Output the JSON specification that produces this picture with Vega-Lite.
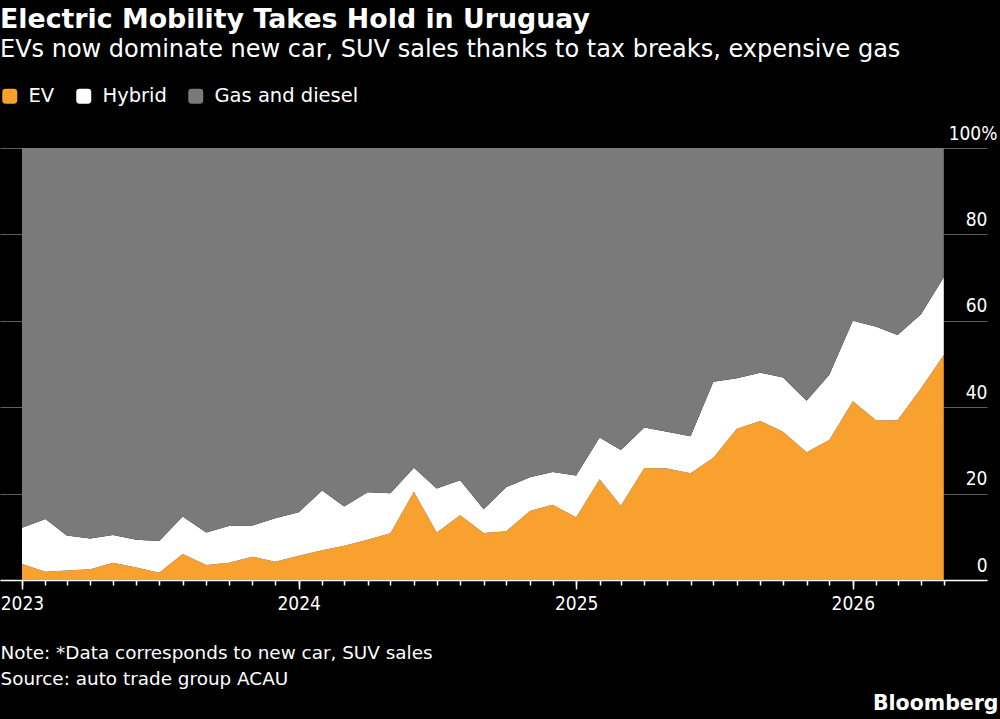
{
  "$schema": "https://vega.github.io/schema/vega-lite/v6.json",
  "background": "#000000",
  "autosize": {"type": "none"},
  "padding": {"left": 0, "top": 148, "right": 13, "bottom": 139},
  "width": 987,
  "height": 432,
  "config": {
    "view": {"stroke": null},
    "font": "DejaVu Sans"
  },
  "title": {
    "text": "Electric Mobility Takes Hold in Uruguay",
    "subtitle": "EVs now dominate new car, SUV sales thanks to tax breaks, expensive gas",
    "anchor": "start",
    "frame": "group",
    "color": "#ffffff",
    "subtitleColor": "#ffffff",
    "font": "DejaVu Sans",
    "subtitleFont": "DejaVu Sans",
    "fontSize": 26.8,
    "subtitleFontSize": 24,
    "fontWeight": "bold",
    "subtitlePadding": 4,
    "offset": 24
  },
  "data": {
    "values": [
      {"date": "2023-01-01", "EV": 3.7, "Hybrid": 8.4, "Gas and diesel": 87.9},
      {"date": "2023-02-01", "EV": 1.9, "Hybrid": 12.2, "Gas and diesel": 85.9},
      {"date": "2023-03-01", "EV": 2.2, "Hybrid": 8.1, "Gas and diesel": 89.7},
      {"date": "2023-04-01", "EV": 2.5, "Hybrid": 7.1, "Gas and diesel": 90.4},
      {"date": "2023-05-01", "EV": 4.0, "Hybrid": 6.4, "Gas and diesel": 89.6},
      {"date": "2023-06-01", "EV": 2.9, "Hybrid": 6.4, "Gas and diesel": 90.7},
      {"date": "2023-07-01", "EV": 1.7, "Hybrid": 7.3, "Gas and diesel": 91.0},
      {"date": "2023-08-01", "EV": 6.0, "Hybrid": 8.7, "Gas and diesel": 85.3},
      {"date": "2023-09-01", "EV": 3.5, "Hybrid": 7.5, "Gas and diesel": 89.0},
      {"date": "2023-10-01", "EV": 4.0, "Hybrid": 8.5, "Gas and diesel": 87.5},
      {"date": "2023-11-01", "EV": 5.4, "Hybrid": 7.2, "Gas and diesel": 87.4},
      {"date": "2023-12-01", "EV": 4.2, "Hybrid": 10.1, "Gas and diesel": 85.7},
      {"date": "2024-01-01", "EV": 5.6, "Hybrid": 10.1, "Gas and diesel": 84.3},
      {"date": "2024-02-01", "EV": 6.9, "Hybrid": 13.8, "Gas and diesel": 79.3},
      {"date": "2024-03-01", "EV": 7.9, "Hybrid": 9.1, "Gas and diesel": 83.0},
      {"date": "2024-04-01", "EV": 9.3, "Hybrid": 11.0, "Gas and diesel": 79.7},
      {"date": "2024-05-01", "EV": 10.8, "Hybrid": 9.3, "Gas and diesel": 79.9},
      {"date": "2024-06-01", "EV": 20.4, "Hybrid": 5.6, "Gas and diesel": 74.0},
      {"date": "2024-07-01", "EV": 11.0, "Hybrid": 10.2, "Gas and diesel": 78.8},
      {"date": "2024-08-01", "EV": 15.0, "Hybrid": 8.1, "Gas and diesel": 76.9},
      {"date": "2024-09-01", "EV": 10.9, "Hybrid": 5.5, "Gas and diesel": 83.6},
      {"date": "2024-10-01", "EV": 11.3, "Hybrid": 10.2, "Gas and diesel": 78.5},
      {"date": "2024-11-01", "EV": 16.0, "Hybrid": 7.8, "Gas and diesel": 76.2},
      {"date": "2024-12-01", "EV": 17.4, "Hybrid": 7.6, "Gas and diesel": 75.0},
      {"date": "2025-01-01", "EV": 14.5, "Hybrid": 9.7, "Gas and diesel": 75.8},
      {"date": "2025-02-01", "EV": 23.3, "Hybrid": 9.7, "Gas and diesel": 67.0},
      {"date": "2025-03-01", "EV": 17.2, "Hybrid": 12.9, "Gas and diesel": 69.9},
      {"date": "2025-04-01", "EV": 25.9, "Hybrid": 9.4, "Gas and diesel": 64.7},
      {"date": "2025-05-01", "EV": 25.8, "Hybrid": 8.5, "Gas and diesel": 65.7},
      {"date": "2025-06-01", "EV": 24.7, "Hybrid": 8.6, "Gas and diesel": 66.7},
      {"date": "2025-07-01", "EV": 28.3, "Hybrid": 17.6, "Gas and diesel": 54.1},
      {"date": "2025-08-01", "EV": 35.0, "Hybrid": 11.7, "Gas and diesel": 53.3},
      {"date": "2025-09-01", "EV": 36.8, "Hybrid": 11.2, "Gas and diesel": 52.0},
      {"date": "2025-10-01", "EV": 34.3, "Hybrid": 12.6, "Gas and diesel": 53.1},
      {"date": "2025-11-01", "EV": 29.6, "Hybrid": 11.9, "Gas and diesel": 58.5},
      {"date": "2025-12-01", "EV": 32.4, "Hybrid": 15.1, "Gas and diesel": 52.5},
      {"date": "2026-01-01", "EV": 41.4, "Hybrid": 18.6, "Gas and diesel": 40.0},
      {"date": "2026-02-01", "EV": 36.9, "Hybrid": 21.7, "Gas and diesel": 41.4},
      {"date": "2026-03-01", "EV": 37.0, "Hybrid": 19.7, "Gas and diesel": 43.3},
      {"date": "2026-04-01", "EV": 44.4, "Hybrid": 17.1, "Gas and diesel": 38.5},
      {"date": "2026-05-01", "EV": 52.1, "Hybrid": 18.0, "Gas and diesel": 29.9}
    ]
  },
  "transform": [
    {"fold": ["EV", "Hybrid", "Gas and diesel"], "as": ["type", "share"]},
    {"calculate": "indexof(['EV', 'Hybrid', 'Gas and diesel'], datum.type)", "as": "stackOrder"}
  ],
  "resolve": {"axis": {"x": "independent"}},
  "layer": [
    {
      "mark": {"type": "area", "interpolate": "linear"},
      "encoding": {
        "x": {
          "field": "date",
          "type": "temporal",
          "scale": {"domain": [{"year": 2022, "month": 12, "date": 3}, {"year": 2026, "month": 6, "date": 27}]},
          "axis": {
            "orient": "bottom",
            "tickCount": {"interval": "month", "step": 1},
            "labels": false,
            "ticks": true,
            "tickSize": 5,
            "tickWidth": 1.5,
            "tickColor": "#ffffff",
            "tickOpacity": {"condition": {"test": "datum.value > datetime(2026, 4, 15)", "value": 0}, "value": 1},
            "domain": true,
            "domainColor": "#ffffff",
            "domainWidth": 1.5,
            "grid": false,
            "title": ["Note: *Data corresponds to new car, SUV sales", "Source: auto trade group ACAU"],
            "titleAnchor": "start",
            "titleAlign": "left",
            "titleBaseline": "top",
            "titleColor": "#ffffff",
            "titleFont": "DejaVu Sans",
            "titleFontSize": 18.4,
            "titleFontWeight": "normal",
            "titleLineHeight": 26,
            "titlePadding": 58
          }
        },
        "y": {
          "field": "share",
          "type": "quantitative",
          "stack": "zero",
          "scale": {"domain": [0, 100], "nice": false},
          "axis": {
            "orient": "right",
            "values": [0, 20, 40, 60, 80, 100],
            "labelExpr": "datum.value == 100 ? '100%' : datum.label",
            "grid": true,
            "gridColor": "#5e5e5e",
            "gridWidth": 1,
            "domain": false,
            "ticks": false,
            "tickSize": 0,
            "labelAlign": "right",
            "labelBaseline": "alphabetic",
            "labelOffset": -9,
            "labelPadding": {"condition": {"test": "datum.value == 100", "value": 10}, "value": 0},
            "labelColor": "#ffffff",
            "labelFont": "DejaVu Sans Condensed",
            "labelFontSize": 19,
            "title": null
          }
        },
        "order": {"field": "stackOrder", "type": "quantitative", "sort": "ascending"},
        "color": {
          "field": "type",
          "type": "nominal",
          "sort": ["EV", "Hybrid", "Gas and diesel"],
          "scale": {"domain": ["EV", "Hybrid", "Gas and diesel"], "range": ["#f9a12e", "#ffffff", "#7a7a7a"]},
          "legend": {
            "orient": "top",
            "direction": "horizontal",
            "title": null,
            "padding": 0,
            "offset": 42,
            "symbolType": "M -0.55 -1 L 0.55 -1 Q 1 -1 1 -0.55 L 1 0.55 Q 1 1 0.55 1 L -0.55 1 Q -1 1 -1 0.55 L -1 -0.55 Q -1 -1 -0.55 -1 Z",
            "symbolSize": 225,
            "symbolStrokeWidth": 0,
            "symbolOpacity": 1,
            "labelColor": "#ffffff",
            "labelFont": "DejaVu Sans",
            "labelFontSize": 19.5,
            "labelOffset": 9,
            "columnPadding": 19
          }
        }
      }
    },
    {
      "mark": {"type": "rule", "opacity": 0},
      "encoding": {
        "x": {
          "field": "date",
          "type": "temporal",
          "axis": {
            "orient": "bottom",
            "tickCount": {"interval": "year", "step": 1},
            "format": "%Y",
            "labelOverlap": false,
            "labelFlush": false,
            "ticks": true,
            "tickSize": 9,
            "tickWidth": 1.5,
            "tickColor": "#ffffff",
            "labelColor": "#ffffff",
            "labelFont": "DejaVu Sans Condensed",
            "labelFontSize": 19,
            "labelPadding": 5,
            "domain": false,
            "grid": false,
            "title": "Bloomberg",
            "titleAnchor": "end",
            "titleAlign": "right",
            "titleBaseline": "top",
            "titleX": 998,
            "titleColor": "#ffffff",
            "titleFont": "DejaVu Sans",
            "titleFontSize": 20.5,
            "titleFontWeight": "bold",
            "titlePadding": 80
          }
        }
      }
    }
  ]
}
